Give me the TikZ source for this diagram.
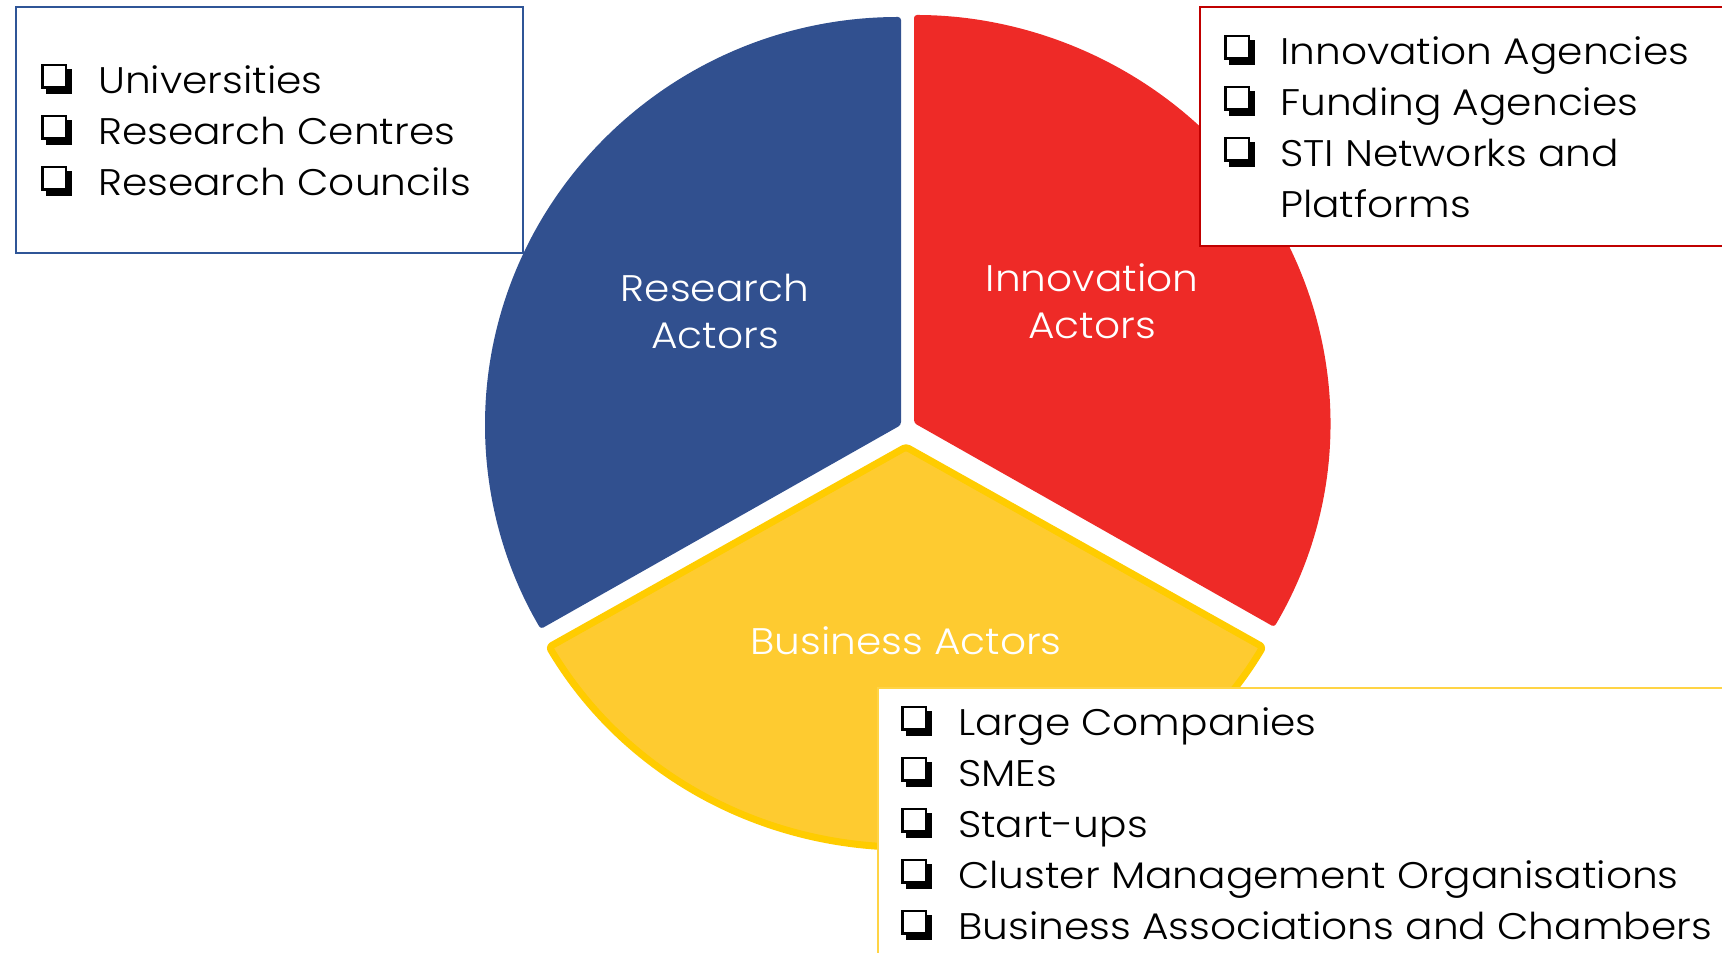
\documentclass[tikz,border=0pt]{standalone}
\usepackage{fontspec}
\setmainfont{Poppins}[UprightFont=* Light, FakeStretch=1.1]
\definecolor{blueW}{HTML}{31508F}
\definecolor{redW}{HTML}{EE2A27}
\definecolor{yelF}{HTML}{FECB30}
\definecolor{yelB}{HTML}{FFCC00}
\definecolor{blueL}{HTML}{2F5597}
\definecolor{redL}{HTML}{C00000}
\definecolor{yelL}{HTML}{FFD445}
\tikzset{
  wedge/.style={rounded corners=3pt},
  listbox/.style={line width=2pt, fill=white},
  item/.style={anchor=base west, inner sep=0pt, font=\fontsize{37}{44}\selectfont, text=black},
  lab/.style={anchor=base, inner sep=0pt, font=\fontsize{37}{44}\selectfont, text=white},
  chk/.pic={
    \fill[black] (5,0) rectangle (31,25);
    \filldraw[fill=white, draw=black, line width=2.5pt] (1.25,6.25) rectangle (24.75,28.75);
  }
}
\begin{document}
\begin{tikzpicture}[x=1pt,y=1pt]
\useasboundingbox (0,0) rectangle (1722,953);
\clip (0,0) rectangle (1722,953);
% wedges
\fill[blueW, wedge] (901,528) -- ++(0,408) arc[start angle=90, end angle=210, x radius=416, y radius=408] -- cycle;
\fill[redW, wedge] (914,530) -- ++({416*cos(-30)},{408*sin(-30)}) arc[start angle=-30, end angle=90, x radius=416, y radius=408] -- cycle;
\filldraw[fill=yelF, draw=yelB, line width=7pt, line join=round, wedge] (906,506) -- ++({-412*cos(30)},{-400*sin(30)}) arc[start angle=210, end angle=330, x radius=412, y radius=400] -- cycle;
% labels
\node[lab] (ra1) at (715,651) {Research};
\node[lab] (ra2) at (715,604) {Actors};
\node[lab] (ia1) at (1092,661) {Innovation};
\node[lab] (ia2) at (1092,614) {Actors};
\node[lab] (ba) at (906,298) {Business Actors};
% box 1
\draw[listbox, draw=blueL] (16,946) rectangle (523,700);
\pic (c11) at (41,859) {chk};
\node[item] (t11) at (98,859) {Universities};
\pic (c12) at (41,808) {chk};
\node[item] (t12) at (98,808) {Research Centres};
\pic (c13) at (41,757) {chk};
\node[item] (t13) at (98,757) {Research Councils};
% box 2
\draw[listbox, draw=redL] (1200,946) rectangle (1740,707);
\pic (c21) at (1224,888) {chk};
\node[item] (t21) at (1280,888) {Innovation Agencies};
\pic (c22) at (1224,837) {chk};
\node[item] (t22) at (1280,837) {Funding Agencies};
\pic (c23) at (1224,786) {chk};
\node[item] (t23) at (1280,786) {STI Networks and};
\node[item] (t24) at (1280,735) {Platforms};
% box 3
\draw[listbox, draw=yelL] (878,265) rectangle (1740,-10);
\pic (c31) at (901,217) {chk};
\node[item] (t31) at (958,217) {Large Companies};
\pic (c32) at (901,166) {chk};
\node[item] (t32) at (958,166) {SMEs};
\pic (c33) at (901,115) {chk};
\node[item] (t33) at (958,115) {Start-ups};
\pic (c34) at (901,64) {chk};
\node[item] (t34) at (958,64) {Cluster Management Organisations};
\pic (c35) at (901,13) {chk};
\node[item] (t35) at (958,13) {Business Associations and Chambers};
\end{tikzpicture}
\end{document}
